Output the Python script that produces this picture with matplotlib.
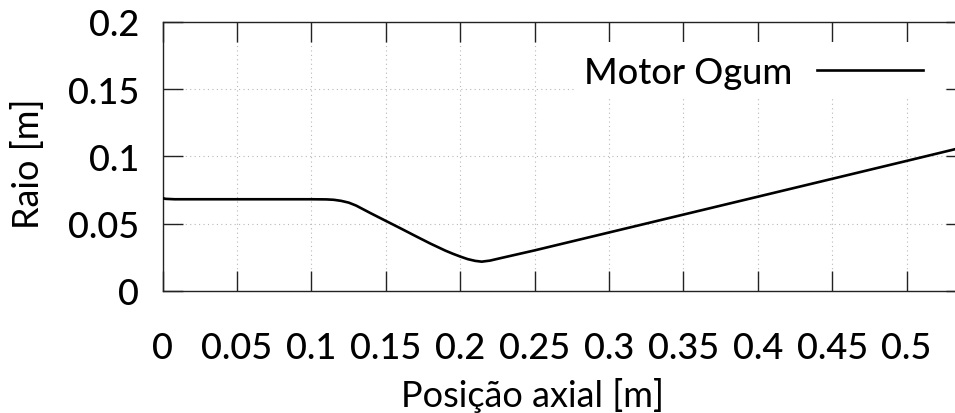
import matplotlib
matplotlib.use('Agg')
import matplotlib.pyplot as plt
from matplotlib.patches import Rectangle

# perfil do motor (posição axial x raio)
pos_axial = [0, 0.002, 0.008, 0.05, 0.1, 0.11, 0.115, 0.12, 0.125, 0.13,
             0.14, 0.15, 0.16, 0.17, 0.18, 0.19, 0.195, 0.2, 0.205, 0.21,
             0.2144, 0.22, 0.227, 0.25, 0.3, 0.35, 0.4, 0.45, 0.5, 0.54]
raio = [0.0690, 0.0685, 0.0682, 0.0682, 0.0682, 0.0681, 0.0678, 0.0670, 0.0657, 0.0635,
        0.0577, 0.0521, 0.0465, 0.0408, 0.0352, 0.0300, 0.0277, 0.0256, 0.0237, 0.0224,
        0.0218, 0.0226, 0.0244, 0.0302, 0.0435, 0.0568, 0.0701, 0.0834, 0.0967, 0.1074]

xticks = [0, 0.05, 0.1, 0.15, 0.2, 0.25, 0.3, 0.35, 0.4, 0.45, 0.5]
xtick_labels = ['0', '0.05', '0.1', '0.15', '0.2', '0.25', '0.3', '0.35', '0.4', '0.45', '0.5']
yticks = [0, 0.05, 0.1, 0.15, 0.2]
ytick_labels = ['0', '0.05', '0.1', '0.15', '0.2']

plt.rcParams['font.family'] = ['Lato', 'DejaVu Sans']
plt.rcParams['font.weight'] = 'medium'
fs = 26

fig = plt.figure(figsize=(9.55, 4.14), dpi=100)
ax = fig.add_axes([0.1704, 0.2947, 0.8412, 0.6498])

ax.plot(pos_axial, raio, color='black', linewidth=1.9, label='Motor Ogum', zorder=3)

ax.set_xlim(0, 0.54)
ax.set_ylim(0, 0.2)
ax.set_xticks(xticks)
ax.set_xticklabels(xtick_labels)
ax.set_yticks(yticks)
ax.set_yticklabels(ytick_labels)

ax.grid(True, color='#b8b8b8', linestyle=(0, (1, 3)), linewidth=0.8)
ax.tick_params(axis='both', direction='in', length=14.5, width=1.0, color='#222222',
               top=True, right=True, labelsize=fs)
ax.tick_params(axis='x', pad=29)
ax.tick_params(axis='y', pad=17)
for s in ax.spines.values():
    s.set_color('#222222')
    s.set_linewidth(1.0)

# fundo branco da legenda (esconde a grade)
ax.add_patch(Rectangle((0.5133, 0.7249), 0.4593, 0.2008, transform=ax.transAxes,
                       facecolor='white', edgecolor='none', zorder=2.6))

ax.legend(loc='center right', bbox_to_anchor=(923 / 955, 1 - 73 / 414),
          bbox_transform=fig.transFigure, frameon=False, markerfirst=False,
          handlelength=2.93, handletextpad=0.69, borderpad=0, borderaxespad=0,
          fontsize=fs)

ax.set_xlabel('Posição axial [m]', fontsize=fs, va='center')
ax.xaxis.set_label_coords(0.4597, -0.3866)
ax.set_ylabel('Raio [m]', fontsize=fs, va='center')
ax.yaxis.set_label_coords(-0.1677, 0.476)

fig.savefig('out.png', dpi=100)
